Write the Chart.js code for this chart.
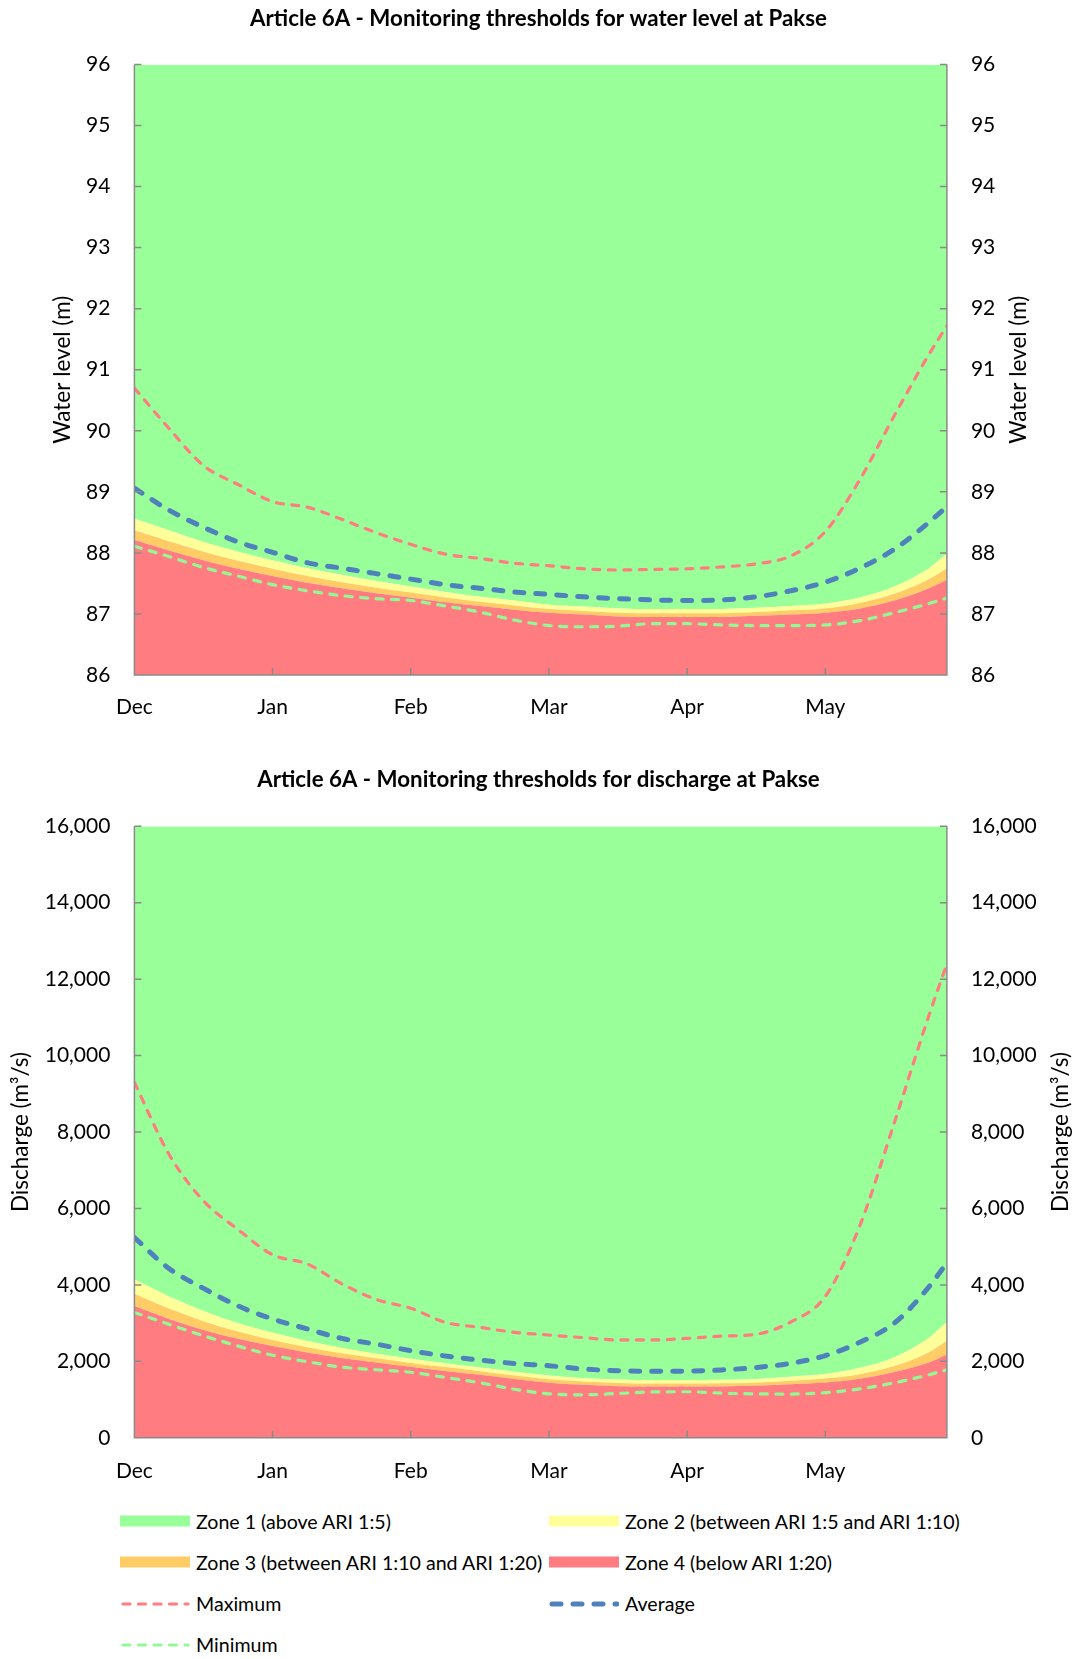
<!DOCTYPE html>
<html>
<head>
<meta charset="utf-8">
<script src="https://cdn.jsdelivr.net/npm/chart.js@4.4.1/dist/chart.umd.min.js"></script>
<style>
  html, body { margin: 0; padding: 0; background: #fff; }
  body { width: 1077px; height: 1659px; position: relative; overflow: hidden; font-family: Lato, "Open Sans", sans-serif; }
  canvas { position: absolute; left: 0; }
  #level-chart { top: 0; }
  #flow-chart { top: 740px; }
  .legend-item { position: absolute; display: flex; align-items: center; height: 24px; font-size: 19.6px; color: #000; white-space: nowrap; }
  .legend-item svg { width: 70px; height: 14px; margin-right: 6px; }
</style>
</head>
<body>
<canvas id="level-chart" width="1077" height="740"></canvas>
<canvas id="flow-chart" width="1077" height="760"></canvas>
<div id="legend"></div>
<script>
// x positions in months after 1 Dec
const sampleMonths = [0, 0.25, 0.5, 0.75, 1, 1.25, 1.5, 1.75, 2, 2.25, 2.5, 2.75, 3, 3.25, 3.5, 3.75, 4, 4.25, 4.5, 4.75, 5, 5.25, 5.5, 5.75, 5.88];
const monthLabels = ["Dec", "Jan", "Feb", "Mar", "Apr", "May"];

// water level at Pakse (m)
const levelZone4Top = [88.21, 88.04, 87.88, 87.74, 87.62, 87.51, 87.42, 87.34, 87.27, 87.19, 87.13, 87.07, 87.02, 86.99, 86.96, 86.95, 86.95, 86.95, 86.97, 86.99, 87.02, 87.09, 87.22, 87.42, 87.56];
const levelZone3Top = [88.37, 88.19, 88.02, 87.87, 87.74, 87.62, 87.52, 87.43, 87.35, 87.27, 87.20, 87.14, 87.08, 87.05, 87.02, 87.01, 87.01, 87.01, 87.03, 87.06, 87.09, 87.18, 87.33, 87.57, 87.75];
const levelZone2Top = [88.56, 88.37, 88.18, 88.02, 87.88, 87.75, 87.64, 87.54, 87.45, 87.36, 87.28, 87.22, 87.15, 87.12, 87.09, 87.08, 87.08, 87.08, 87.10, 87.13, 87.17, 87.27, 87.45, 87.75, 87.98];
const levelMax = [90.70, 90.04, 89.43, 89.12, 88.84, 88.75, 88.55, 88.33, 88.14, 87.98, 87.91, 87.83, 87.79, 87.74, 87.72, 87.73, 87.74, 87.77, 87.82, 87.95, 88.35, 89.20, 90.25, 91.25, 91.72];
const levelAvg = [89.06, 88.70, 88.42, 88.18, 88.01, 87.84, 87.75, 87.66, 87.57, 87.48, 87.42, 87.36, 87.32, 87.28, 87.25, 87.23, 87.22, 87.23, 87.28, 87.38, 87.52, 87.75, 88.06, 88.50, 88.76];
const levelMin = [88.11, 87.94, 87.76, 87.62, 87.48, 87.38, 87.30, 87.25, 87.22, 87.13, 87.03, 86.90, 86.81, 86.79, 86.80, 86.84, 86.84, 86.82, 86.81, 86.81, 86.82, 86.89, 87.02, 87.17, 87.26];

// discharge at Pakse (m3/s)
const flowZone4Top = [3450, 3110, 2820, 2590, 2400, 2230, 2090, 1970, 1860, 1750, 1650, 1540, 1440, 1385, 1350, 1340, 1340, 1345, 1360, 1400, 1445, 1545, 1720, 1970, 2180];
const flowZone3Top = [3770, 3380, 3050, 2780, 2560, 2370, 2210, 2080, 1960, 1850, 1740, 1630, 1530, 1470, 1435, 1420, 1420, 1425, 1440, 1490, 1550, 1665, 1880, 2240, 2540];
const flowZone2Top = [4140, 3700, 3320, 3000, 2750, 2530, 2350, 2200, 2070, 1950, 1840, 1730, 1630, 1560, 1525, 1510, 1510, 1520, 1540, 1600, 1670, 1830, 2110, 2620, 3030];
const flowMax = [9300, 7420, 6200, 5450, 4790, 4550, 4030, 3620, 3390, 3020, 2890, 2760, 2690, 2620, 2560, 2560, 2600, 2660, 2710, 3030, 3700, 5550, 8250, 11050, 12400];
const flowAvg = [5240, 4430, 3910, 3450, 3110, 2850, 2600, 2450, 2280, 2140, 2035, 1945, 1885, 1800, 1755, 1740, 1745, 1775, 1840, 1950, 2150, 2500, 3000, 3950, 4580];
const flowMin = [3280, 2970, 2670, 2400, 2160, 1990, 1850, 1780, 1715, 1580, 1440, 1270, 1150, 1125, 1160, 1200, 1205, 1170, 1150, 1145, 1180, 1280, 1440, 1650, 1780];

const ZONE_COLORS = {
  zone1: "#99FF99",
  zone2: "#FFFF99",
  zone3: "#FFCC66",
  zone4: "#FF7C80",
};
const LINE_COLORS = { max: "#FF7C80", avg: "#4F81BD", min: "#94F894" };
const FONT = "Lato, 'Open Sans', sans-serif";

Chart.defaults.font.family = FONT;
Chart.defaults.font.size = 21;
Chart.defaults.color = "#000";

function points(values) {
  return values.map((v, i) => ({ x: sampleMonths[i], y: v }));
}

// axis lines and inward tick marks, drawn over the filled zones
const axisFrame = {
  id: "axisFrame",
  afterDatasetsDraw(chart) {
    const { ctx, chartArea: a, scales } = chart;
    ctx.save();
    ctx.strokeStyle = "#8a8a8a";
    ctx.lineWidth = 1.5;
    ctx.beginPath();
    ctx.moveTo(a.left, a.top);
    ctx.lineTo(a.left, a.bottom);
    ctx.lineTo(a.right, a.bottom);
    ctx.lineTo(a.right, a.top);
    scales.y.ticks.forEach((t) => {
      const py = scales.y.getPixelForValue(t.value);
      ctx.moveTo(a.left, py);
      ctx.lineTo(a.left + 7, py);
      ctx.moveTo(a.right, py);
      ctx.lineTo(a.right - 7, py);
    });
    scales.x.ticks.forEach((t) => {
      const px = scales.x.getPixelForValue(t.value);
      ctx.moveTo(px, a.bottom);
      ctx.lineTo(px, a.bottom - 7);
    });
    ctx.stroke();
    ctx.restore();
  },
};

// right axis title reads bottom to top, like the left one
const rightTitle = {
  id: "rightTitle",
  afterDraw(chart, args, opts) {
    const { ctx, chartArea } = chart;
    ctx.save();
    ctx.translate(opts.x, (chartArea.top + chartArea.bottom) / 2);
    ctx.rotate(-Math.PI / 2);
    ctx.font = "22.5px " + FONT;
    ctx.fillStyle = "#000";
    ctx.textAlign = "center";
    ctx.textBaseline = "middle";
    ctx.fillText(opts.text, 0, 0);
    ctx.restore();
  },
};

function makeConfig(o) {
  const zone = (label, values, color, fill) => ({
    label, data: points(values), backgroundColor: color, borderWidth: 0,
    pointRadius: 0, fill, cubicInterpolationMode: "monotone", order: 10,
  });
  const line = (label, values, color, width, dash) => ({
    label, data: points(values), borderColor: color, borderWidth: width, borderDash: dash,
    borderCapStyle: "round", pointRadius: 0, fill: false, cubicInterpolationMode: "monotone", order: 1,
  });
  const yTicks = { stepSize: o.step, padding: 24, callback: (v) => v.toLocaleString("en-US") };
  return {
    type: "line",
    data: {
      datasets: [
        zone("Zone 4 (below ARI 1:20)", o.zone4, ZONE_COLORS.zone4, "start"),
        zone("Zone 3 (between ARI 1:10 and ARI 1:20)", o.zone3, ZONE_COLORS.zone3, "-1"),
        zone("Zone 2 (between ARI 1:5 and ARI 1:10)", o.zone2, ZONE_COLORS.zone2, "-1"),
        zone("Zone 1 (above ARI 1:5)", o.zone2, ZONE_COLORS.zone1, "end"),
        line("Maximum", o.max, LINE_COLORS.max, 3.2, [7, 8.5]),
        line("Average", o.avg, LINE_COLORS.avg, 5, [9, 12]),
        line("Minimum", o.min, LINE_COLORS.min, 3.2, [7, 8.5]),
      ],
    },
    options: {
      responsive: false,
      animation: false,
      layout: { padding: 0 },
      plugins: {
        legend: { display: false },
        tooltip: { enabled: false },
        title: {
          display: true,
          text: o.title,
          font: { size: 22.3, weight: "bold" },
          padding: o.titlePad,
        },
        rightTitle: { text: o.yTitle, x: o.rightTitleX },
      },
      scales: {
        x: {
          type: "linear",
          min: 0,
          max: 5.88,
          afterBuildTicks: (s) => { s.ticks = monthLabels.map((_, i) => ({ value: i })); },
          ticks: { callback: (v, i) => monthLabels[i], padding: o.xPad, autoSkip: false, maxRotation: 0 },
          grid: { display: false, drawTicks: false },
          border: { display: false },
          afterFit: (s) => { s.height = o.xHeight; },
        },
        y: {
          position: "left",
          min: o.yMin,
          max: o.yMax,
          ticks: yTicks,
          grid: { display: false, drawTicks: false },
          border: { display: false },
          title: { display: true, text: o.yTitle, font: { size: 22.5 }, padding: { top: o.leftTitlePad, bottom: 0 } },
          afterFit: (s) => { s.width = 134.4; },
        },
        y2: {
          position: "right",
          min: o.yMin,
          max: o.yMax,
          ticks: yTicks,
          grid: { display: false, drawTicks: false },
          border: { display: false },
          afterFit: (s) => { s.width = 130.1; },
        },
      },
    },
    plugins: [axisFrame, rightTitle],
  };
}

new Chart(document.getElementById("level-chart"), makeConfig({
  title: "Article 6A - Monitoring thresholds for water level at Pakse",
  titlePad: { top: 5.6, bottom: 32.1 },
  yTitle: "Water level (m)",
  yMin: 86, yMax: 96, step: 1,
  leftTitlePad: 49.5, rightTitleX: 1019,
  xHeight: 65, xPad: 20,
  zone4: levelZone4Top, zone3: levelZone3Top, zone2: levelZone2Top,
  max: levelMax, avg: levelAvg, min: levelMin,
}));

new Chart(document.getElementById("flow-chart"), makeConfig({
  title: "Article 6A - Monitoring thresholds for discharge at Pakse",
  titlePad: { top: 26.6, bottom: 32.9 },
  yTitle: "Discharge (m³/s)",
  yMin: 0, yMax: 16000, step: 2000,
  leftTitlePad: 7.5, rightTitleX: 1061,
  xHeight: 62.2, xPad: 21,
  zone4: flowZone4Top, zone3: flowZone3Top, zone2: flowZone2Top,
  max: flowMax, avg: flowAvg, min: flowMin,
}));

// shared legend under the second chart
const legendItems = [
  { text: "Zone 1 (above ARI 1:5)", kind: "box", color: ZONE_COLORS.zone1 },
  { text: "Zone 2 (between ARI 1:5 and ARI 1:10)", kind: "box", color: ZONE_COLORS.zone2 },
  { text: "Zone 3 (between ARI 1:10 and ARI 1:20)", kind: "box", color: ZONE_COLORS.zone3 },
  { text: "Zone 4 (below ARI 1:20)", kind: "box", color: ZONE_COLORS.zone4 },
  { text: "Maximum", kind: "line", color: LINE_COLORS.max, width: 3.2, dash: "7 8.5" },
  { text: "Average", kind: "line", color: LINE_COLORS.avg, width: 5, dash: "9 12" },
  { text: "Minimum", kind: "line", color: LINE_COLORS.min, width: 3.2, dash: "7 8.5" },
];
const legendBox = document.getElementById("legend");
legendItems.forEach((item, i) => {
  const el = document.createElement("div");
  el.className = "legend-item";
  el.style.left = [120, 549][i % 2] + "px";
  el.style.top = (1521 + Math.floor(i / 2) * 41.3 - 12) + "px";
  const swatch = item.kind === "box"
    ? `<rect x="0" y="1.5" width="70" height="11" fill="${item.color}"/>`
    : `<line x1="3" y1="7" x2="68" y2="7" stroke="${item.color}" stroke-width="${item.width}" stroke-dasharray="${item.dash}" stroke-linecap="round"/>`;
  el.innerHTML = `<svg viewBox="0 0 70 14">${swatch}</svg><span>${item.text}</span>`;
  legendBox.appendChild(el);
});
</script>
</body>
</html>
